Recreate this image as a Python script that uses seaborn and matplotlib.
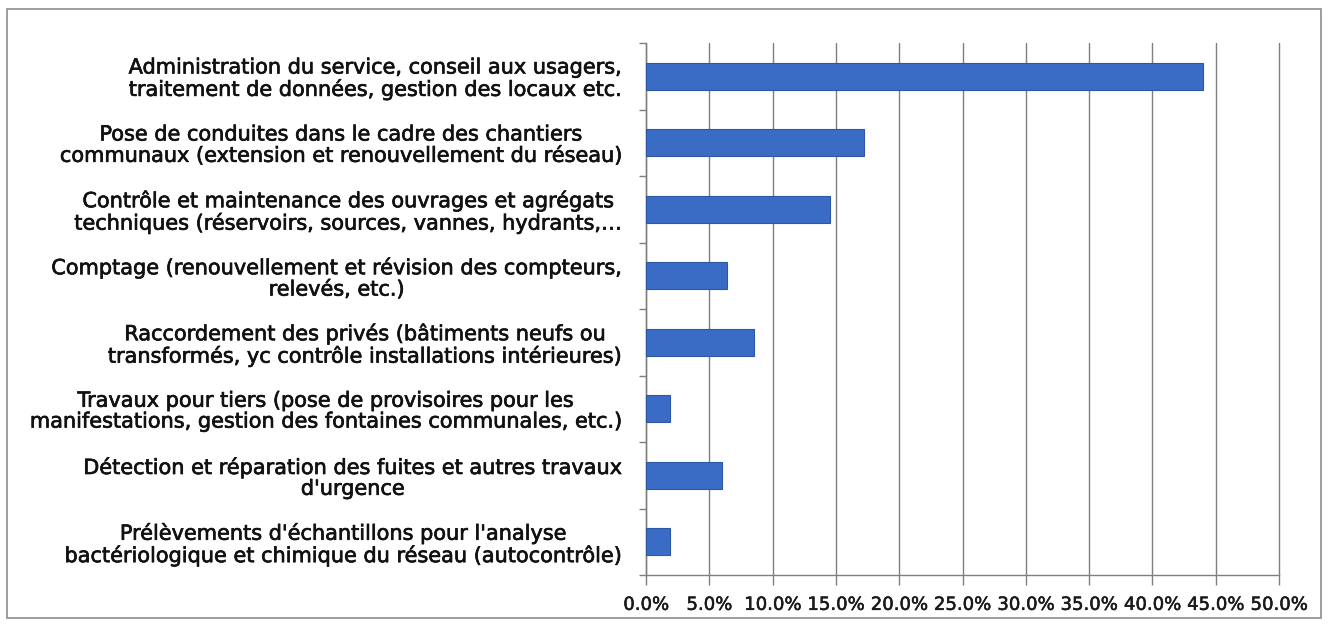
import matplotlib
matplotlib.use("Agg")
import matplotlib.pyplot as plt
import matplotlib.patheffects as pe
import seaborn as sns
import pandas as pd
import numpy as np
from matplotlib.patches import Rectangle
from matplotlib.ticker import FuncFormatter, FixedLocator

categories = [
    "Administration du service, conseil aux usagers,\ntraitement de données, gestion des locaux etc.",
    "Pose de conduites dans le cadre des chantiers\ncommunaux (extension et renouvellement du réseau)",
    "Contrôle et maintenance des ouvrages et agrégats\ntechniques (réservoirs, sources, vannes, hydrants,…",
    "Comptage (renouvellement et révision des compteurs,\nrelevés, etc.)",
    "Raccordement des privés (bâtiments neufs ou\ntransformés, yc contrôle installations intérieures)",
    "Travaux pour tiers (pose de provisoires pour les\nmanifestations, gestion des fontaines communales, etc.)",
    "Détection et réparation des fuites et autres travaux\nd'urgence",
    "Prélèvements d'échantillons pour l'analyse\nbactériologique et chimique du réseau (autocontrôle)",
]
values = [0.440, 0.172, 0.145, 0.064, 0.085, 0.019, 0.060, 0.019]
xticks = [0.0, 0.05, 0.10, 0.15, 0.20, 0.25, 0.30, 0.35, 0.40, 0.45, 0.50]

df = pd.DataFrame({"cat": categories, "val": values})

sns.set_theme(style="white")
plt.rcParams["font.family"] = ["DejaVu Sans"]

W, H = 1328, 628
fig = plt.figure(figsize=(W / 100, H / 100), dpi=100)
ax = fig.add_axes([646 / W, 1 - 575 / H, (1279 - 646) / W, (575 - 43) / H])

sns.barplot(data=df, x="val", y="cat", orient="h", color="#3a6cc6",
            saturation=1, width=0.40, edgecolor="#2d57a3", linewidth=0.8,
            ax=ax, zorder=3)

ax.set_xlim(0, 0.5)
ax.set_ylim(len(categories) - 0.5, -0.5)
ax.xaxis.set_major_locator(FixedLocator(xticks))
ax.xaxis.set_major_formatter(FuncFormatter(lambda v, p: f"{v*100:.1f}%"))
ax.grid(axis="x", color="#7f7f7f", linewidth=1.0, zorder=0)
ax.grid(axis="y", visible=False)
for gl in ax.get_xgridlines():
    gl.set_clip_on(False)
ax.set_xlabel("")
ax.set_ylabel("")

for s in ["top", "right"]:
    ax.spines[s].set_visible(False)
for s in ["left", "bottom"]:
    ax.spines[s].set_visible(True)
    ax.spines[s].set_color("#7f7f7f")
    ax.spines[s].set_linewidth(1.0)

ax.tick_params(axis="x", which="major", bottom=True, length=7, width=1,
               color="#7f7f7f", labelsize=13, labelcolor="#1a1a1a", pad=8)
ax.tick_params(axis="y", which="major", left=False, labelsize=15,
               labelcolor="#111111", pad=11)
ax.yaxis.set_minor_locator(FixedLocator(np.arange(-0.5, len(categories), 1.0)))
ax.tick_params(axis="y", which="minor", left=True, length=5, width=1, color="#7f7f7f")
stroke = [pe.withStroke(linewidth=0.5, foreground="#111111")]
for lab in ax.get_yticklabels():
    lab.set_multialignment("center")
    lab.set_linespacing(1.05)
    lab.set_path_effects(stroke)
for lab in ax.get_xticklabels():
    lab.set_path_effects([pe.withStroke(linewidth=0.4, foreground="#1a1a1a")])

fig.patches.append(Rectangle((7 / W, 1 - 618 / H), (1321 - 7) / W, (618 - 9) / H,
                             transform=fig.transFigure, fill=False,
                             edgecolor="#8c8c8c", linewidth=1.2))

fig.savefig("out.png", dpi=100)
